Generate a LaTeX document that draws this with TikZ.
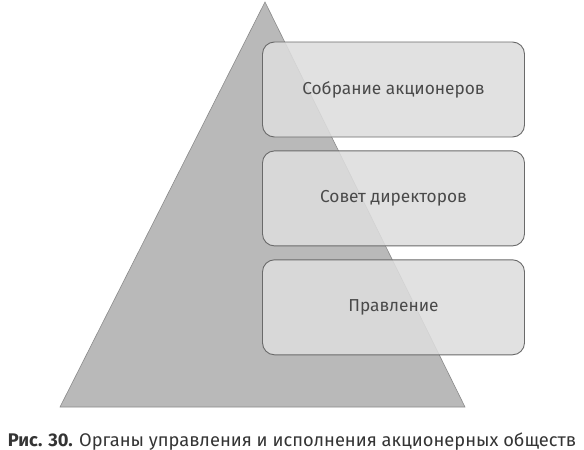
\documentclass[tikz,border=0pt]{standalone}
\usepackage{fontspec}
\setmainfont{Fira Sans}
\usepackage{tikz}
\usetikzlibrary{positioning}

\definecolor{pyrfill}{HTML}{B9B9B9}
\definecolor{pyrline}{HTML}{8A8A8A}
\definecolor{boxfill}{HTML}{DDDDDD}
\definecolor{boxline}{HTML}{6A6A6A}
\definecolor{labeltext}{HTML}{4A4A4A}

\tikzset{
  organ/.style={draw=boxline, line width=0.9pt, fill=boxfill, fill opacity=0.87, text opacity=1,
    rounded corners=12pt, minimum width=262pt, minimum height=95pt, inner sep=0pt,
    text=labeltext, font=\fontsize{17.3}{19}\selectfont},
}

\begin{document}
\begin{tikzpicture}[x=1pt,y=-1pt]
\useasboundingbox (0,0) rectangle (584,450);

% pyramid
\coordinate (Apex) at (265,2);
\coordinate (Base-Left) at (60,407);
\coordinate (Base-Right) at (465,407);
\path [draw=pyrline, fill=pyrfill, line width=0.6pt] (Apex) -- (Base-Right) -- (Base-Left) -- cycle;

\node[name=Shareholders,organ] at (393.5,89.5) {Собрание акционеров};
\node[name=Board,organ,below=13pt of Shareholders] {Совет директоров};
\node[name=Management,organ,below=13pt of Board] {Правление};

\node[name=Caption,anchor=base,text=labeltext!70!black,font=\fontsize{18.3}{21}\selectfont] at (292,446)
  {\textbf{Рис. 30.} Органы управления и исполнения акционерных обществ};
\end{tikzpicture}
\end{document}
